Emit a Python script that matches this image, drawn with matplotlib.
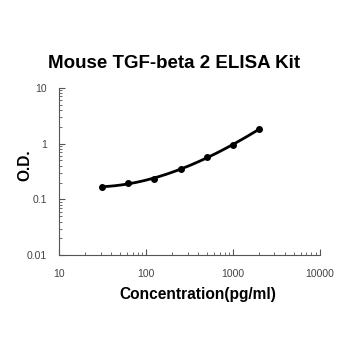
import numpy as np
import matplotlib
matplotlib.use("Agg")
import matplotlib.pyplot as plt
from matplotlib.ticker import LogLocator, NullFormatter

conc = [31.25, 62.5, 125, 250, 500, 1000, 2000]
od = [0.167, 0.197, 0.233, 0.35, 0.57, 0.95, 1.82]
xticks = [10, 100, 1000, 10000]
xticklabels = ["10", "100", "1000", "10000"]
yticks = [0.01, 0.1, 1, 10]
yticklabels = ["0.01", "0.1", "1", "10"]

plt.rcParams['font.family'] = ['Liberation Sans', 'DejaVu Sans']
fig = plt.figure(figsize=(3.5, 3.5), dpi=100)
ax = fig.add_axes([0.169, 0.271, 0.745, 0.478])

lx = np.log10(conc)
ly = np.log10(od)
coef = np.polyfit(lx, ly, 3)
xs = np.linspace(lx[0], lx[-1], 200)
ax.plot(10**xs, 10**np.polyval(coef, xs), color='black', lw=2)
ax.plot(conc, od, 'o', color='black', ms=4)

ax.set_xscale('log')
ax.set_yscale('log')
ax.set_xlim(10, 10000)
ax.set_ylim(0.01, 10)
ax.set_xticks(xticks)
ax.set_xticklabels(xticklabels)
ax.set_yticks(yticks)
ax.set_yticklabels(yticklabels)
ax.xaxis.set_minor_locator(LogLocator(base=10, subs=np.arange(2, 10)))
ax.yaxis.set_minor_locator(LogLocator(base=10, subs=np.arange(2, 10)))
ax.xaxis.set_minor_formatter(NullFormatter())
ax.yaxis.set_minor_formatter(NullFormatter())
ax.tick_params(axis='both', which='major', direction='in', length=4, width=0.8, color='#555555', labelsize=7.5, labelcolor='#444444')
ax.tick_params(axis='x', which='major', pad=10)
ax.tick_params(axis='y', which='major', pad=9)
ax.tick_params(axis='both', which='minor', direction='in', length=2.5, width=0.6, color='#555555')
for s in ['top', 'right']:
    ax.spines[s].set_visible(False)
for s in ['left', 'bottom']:
    ax.spines[s].set_color('#555555')
    ax.spines[s].set_linewidth(0.8)

fig.text(174/350, 1 - 63/350, "Mouse TGF-beta 2 ELISA Kit", fontsize=13.5, fontweight='bold', ha='center', va='center')
fig.text(198/350, 1 - 294/350, "Concentration(pg/ml)", fontsize=11.2, fontweight='bold', ha='center', va='center')
fig.text(25/350, 1 - 165/350, "O.D.", fontsize=11.2, fontweight='bold', rotation=90, ha='center', va='center')

fig.savefig("out.png", dpi=100)
